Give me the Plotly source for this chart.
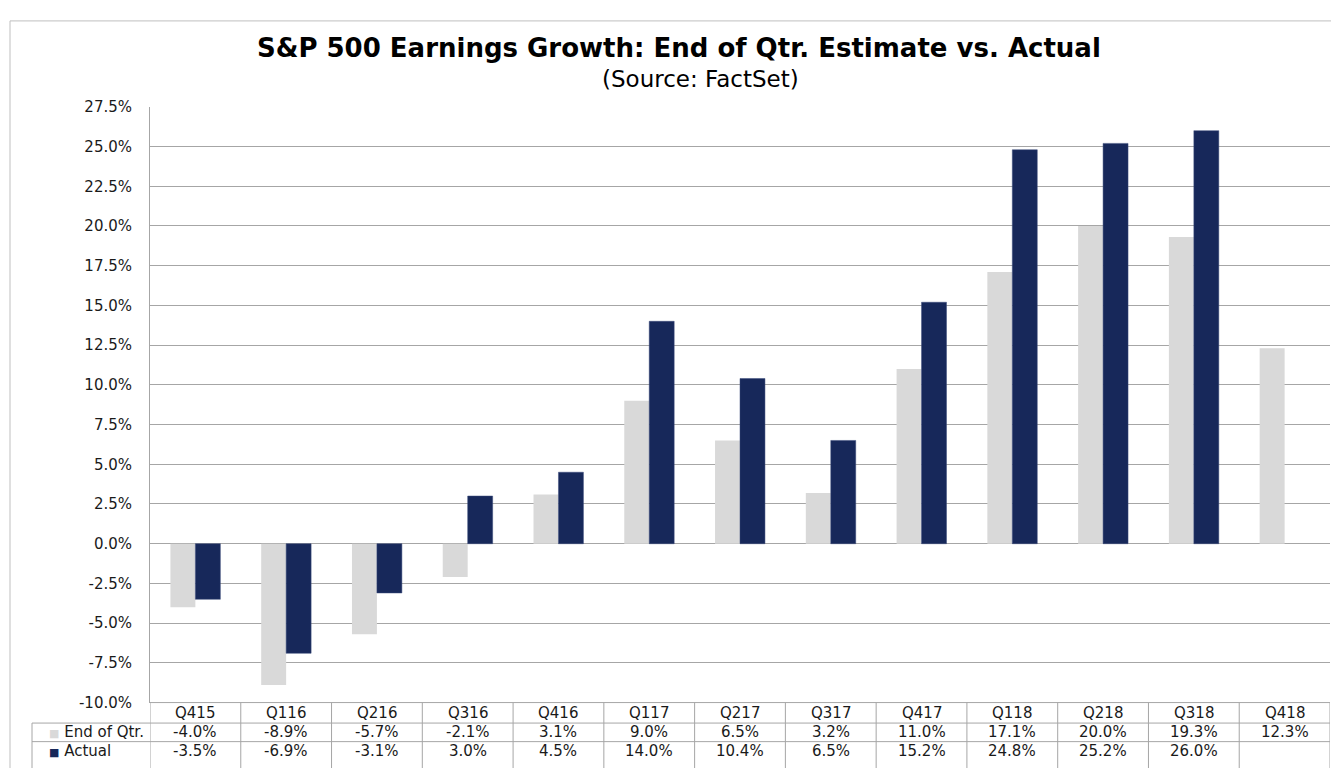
import plotly.graph_objects as go

# data
quarters = ["Q415", "Q116", "Q216", "Q316", "Q416", "Q117", "Q217",
            "Q317", "Q417", "Q118", "Q218", "Q318", "Q418"]
end_of_qtr = [-4.0, -8.9, -5.7, -2.1, 3.1, 9.0, 6.5, 3.2, 11.0, 17.1, 20.0, 19.3, 12.3]
actual = [-3.5, -6.9, -3.1, 3.0, 4.5, 14.0, 10.4, 6.5, 15.2, 24.8, 25.2, 26.0, None]
y_ticks = [-10.0, -7.5, -5.0, -2.5, 0.0, 2.5, 5.0, 7.5, 10.0, 12.5, 15.0,
           17.5, 20.0, 22.5, 25.0, 27.5]

W, H = 1339, 769
OFF = 8  # page body margin
GREY = "#D9D9D9"
NAVY = "#17285A"
LINE = "#A6A6A6"
FONT = "DejaVu Sans, Arial, sans-serif"


def py(pix):
    # page pixel row -> paper y
    return 1 - (pix - OFF) / H


def px(pix):
    return (pix - OFF) / W


# plot area and table rows (page pixels)
PLOT_TOP, PLOT_BOT = 100, 710
ROW1, ROW2, ROW3 = 731, 750, 769
X_LEFT, X_RIGHT, TBL_LEFT = 150, 1330, 32

fig = go.Figure()

fig.add_trace(go.Bar(
    x=quarters, y=end_of_qtr, name="End of Qtr.",
    marker=dict(color=GREY, line=dict(width=0)),
    hoverinfo="x+y"
))
fig.add_trace(go.Bar(
    x=quarters, y=actual, name="Actual",
    marker=dict(color=NAVY, line=dict(width=0.5, color="#3A4A7A")),
    hoverinfo="x+y"
))

shapes = []
annotations = []

# outer chart frame
shapes.append(dict(type="line", xref="paper", yref="paper",
                   x0=px(10), x1=1.0, y0=py(12), y1=py(12),
                   line=dict(color="#BFBFBF", width=1)))
shapes.append(dict(type="line", xref="paper", yref="paper",
                   x0=px(10), x1=px(10), y0=py(12), y1=0,
                   line=dict(color="#BFBFBF", width=1)))

# data table grid
for yy, x0 in [(PLOT_BOT, X_LEFT), (ROW1, TBL_LEFT), (ROW2, TBL_LEFT)]:
    shapes.append(dict(type="line", xref="paper", yref="paper",
                       x0=px(x0), x1=px(X_RIGHT), y0=py(yy), y1=py(yy),
                       line=dict(color=LINE, width=1)))
for i in range(len(quarters) + 1):
    shapes.append(dict(type="line", xref="x", yref="paper",
                       x0=i - 0.5, x1=i - 0.5, y0=py(PLOT_BOT), y1=0,
                       line=dict(color=LINE, width=1)))
shapes.append(dict(type="line", xref="paper", yref="paper",
                   x0=px(TBL_LEFT), x1=px(TBL_LEFT), y0=py(ROW1), y1=0,
                   line=dict(color=LINE, width=1)))


def fmt(v):
    return "" if v is None else f"{v:.1f}%"


def cell(x, y, text, xref="x", xanchor="center", **kw):
    return dict(x=x, y=y, xref=xref, yref="paper", text=text, showarrow=False,
                xanchor=xanchor, yanchor="middle",
                font=kw.get("font", dict(family=FONT, size=15, color="#1a1a1a")))


for i, q in enumerate(quarters):
    annotations.append(cell(i, py((PLOT_BOT + ROW1) / 2), q))
    annotations.append(cell(i, py((ROW1 + ROW2) / 2), fmt(end_of_qtr[i])))
    annotations.append(cell(i, py((ROW2 + ROW3) / 2), fmt(actual[i])))

# row labels with legend keys
annotations.append(cell(px(47), py((ROW1 + ROW2) / 2),
                        f"<span style='color:{GREY};font-size:11px'>■</span> End of Qtr.",
                        xref="paper", xanchor="left"))
annotations.append(cell(px(47), py((ROW2 + ROW3) / 2),
                        f"<span style='color:{NAVY};font-size:11px'>■</span> Actual",
                        xref="paper", xanchor="left"))

# title
annotations.append(cell(px(679), py(40),
                        "<b>S&P 500 Earnings Growth: End of Qtr. Estimate vs. Actual</b>",
                        xref="paper", font=dict(family=FONT, size=26, color="#000")))
annotations.append(cell(px(700), py(71), "(Source: FactSet)",
                        xref="paper", font=dict(family=FONT, size=23, color="#000")))

fig.update_layout(
    width=W, height=H,
    margin=dict(l=0, r=0, t=0, b=0),
    paper_bgcolor="white", plot_bgcolor="white",
    barmode="group", bargap=0.45, bargroupgap=0,
    showlegend=False,
    shapes=shapes, annotations=annotations,
    xaxis=dict(domain=[px(X_LEFT), px(X_RIGHT)], showticklabels=False,
               showgrid=False, zeroline=False, showline=False,
               range=[-0.5, len(quarters) - 0.5]),
    yaxis=dict(domain=[py(PLOT_BOT), py(PLOT_TOP)], range=[-10, 27.5],
               tickvals=y_ticks, ticktext=[f"{t:.1f}%" for t in y_ticks],
               tickfont=dict(family=FONT, size=15, color="#1a1a1a"),
               showgrid=True, gridcolor=LINE, gridwidth=1,
               zeroline=True, zerolinecolor=LINE, zerolinewidth=1,
               showline=True, linecolor=LINE, linewidth=1,
               ticks="", ticklabelstandoff=14),
    font=dict(family=FONT)
)

fig.write_html("out.html")
